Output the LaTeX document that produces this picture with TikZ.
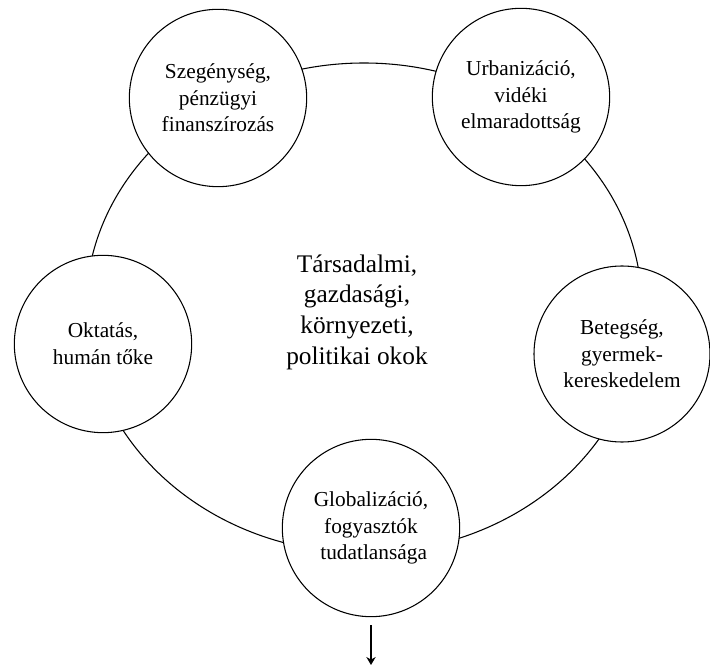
\documentclass[tikz,border=0pt]{standalone}
\usepackage{fontspec}
\setmainfont{Liberation Serif}
\usetikzlibrary{arrows.meta}

\begin{document}
\begin{tikzpicture}[x=0.75pt, y=-0.75pt,
    okbox/.style={circle, draw, line width=0.8pt, fill=white, inner sep=0pt,
      minimum size=133pt, align=center,
      font=\fontsize{16}{20}\selectfont}]
    \useasboundingbox (0, 0) rectangle (710, 666);

    % the big ring behind the causes
    \draw [line width=0.8pt, color=black]
    (364, 308) ellipse [x radius=208.5pt, y radius=183.75pt];

    \node [align=center, font=\fontsize{19}{23}\selectfont] (okok) at (357, 312)
    {Társadalmi,\\ gazdasági,\\ környezeti,\\ politikai okok};

    \node [okbox] (szeg) at (218, 98) {Szegénység,\\ pénzügyi\\ finanszírozás};
    \node [okbox] (urb) at (521, 97) {Urbanizáció,\\ vidéki\\ elmaradottság};
    \node [okbox] (okt) at (103, 344) {Oktatás,\\ humán tőke};
    \node [okbox, minimum size=132pt] (beteg) at (622, 354) {Betegség,\\ gyermek-\\ kereskedelem};
    \node [okbox] (glob) at (371, 528) {Globalizáció,\\ fogyasztók\\ \ tudatlansága};

    \coordinate (out) at (371, 665);
    \draw [-{Stealth[length=6pt, width=7pt]}, line width=0.8pt, color=black]
    ([yshift=-6pt]glob.south) -- (out);
  \end{tikzpicture}
\end{document}
